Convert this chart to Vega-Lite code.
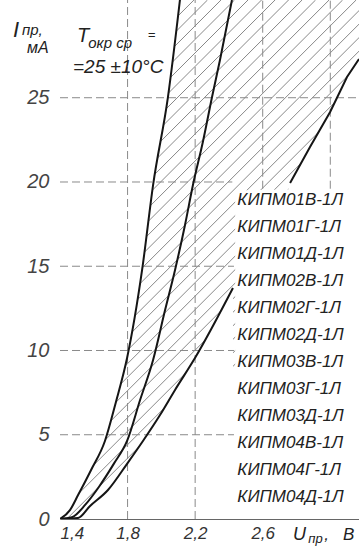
{
  "$schema": "https://vega.github.io/schema/vega-lite/v6.json",
  "width": 299,
  "height": 519,
  "autosize": "none",
  "padding": {"left": 60, "top": 0, "right": 0, "bottom": 27},
  "background": "white",
  "config": {
    "view": {"stroke": null},
    "font": "Liberation Sans",
    "axis": {"zindex": 1}
  },
  "datasets": {
    "hatch": [
      {"v0": -0.96, "v1": 2.113}, {"v0": -0.88, "v1": 2.193}, {"v0": -0.80, "v1": 2.273},
      {"v0": -0.72, "v1": 2.353}, {"v0": -0.64, "v1": 2.433}, {"v0": -0.56, "v1": 2.513},
      {"v0": -0.48, "v1": 2.593}, {"v0": -0.40, "v1": 2.673}, {"v0": -0.32, "v1": 2.753},
      {"v0": -0.24, "v1": 2.833}, {"v0": -0.16, "v1": 2.913}, {"v0": -0.08, "v1": 2.993},
      {"v0": 0.00, "v1": 3.073}, {"v0": 0.08, "v1": 3.153}, {"v0": 0.16, "v1": 3.233},
      {"v0": 0.24, "v1": 3.313}, {"v0": 0.32, "v1": 3.393}, {"v0": 0.40, "v1": 3.473},
      {"v0": 0.48, "v1": 3.553}, {"v0": 0.56, "v1": 3.633}, {"v0": 0.64, "v1": 3.713},
      {"v0": 0.72, "v1": 3.793}, {"v0": 0.80, "v1": 3.873}, {"v0": 0.88, "v1": 3.953},
      {"v0": 0.96, "v1": 4.033}, {"v0": 1.04, "v1": 4.113}, {"v0": 1.12, "v1": 4.193},
      {"v0": 1.20, "v1": 4.273}, {"v0": 1.28, "v1": 4.353}, {"v0": 1.36, "v1": 4.433},
      {"v0": 1.44, "v1": 4.513}, {"v0": 1.52, "v1": 4.593}
    ],
    "curve1": [
      {"v": 1.40, "i": 0}, {"v": 1.459, "i": 0.53}, {"v": 1.507, "i": 1.42},
      {"v": 1.584, "i": 2.91}, {"v": 1.666, "i": 4.63}, {"v": 1.73, "i": 6.9},
      {"v": 1.797, "i": 9.55}, {"v": 1.886, "i": 14.78}, {"v": 1.951, "i": 19.82},
      {"v": 2.039, "i": 25.04}, {"v": 2.110, "i": 30.8}
    ],
    "curve2": [
      {"v": 1.40, "i": 0}, {"v": 1.47, "i": 0.1}, {"v": 1.55, "i": 0.85},
      {"v": 1.63, "i": 1.9}, {"v": 1.72, "i": 3.3}, {"v": 1.797, "i": 4.63},
      {"v": 1.874, "i": 7.06}, {"v": 1.951, "i": 9.44}, {"v": 2.022, "i": 12.40},
      {"v": 2.081, "i": 14.78}, {"v": 2.140, "i": 17.45}, {"v": 2.187, "i": 19.82},
      {"v": 2.247, "i": 22.43}, {"v": 2.300, "i": 25.04}, {"v": 2.347, "i": 27.24},
      {"v": 2.418, "i": 30.8}
    ],
    "curve3a": [
      {"v": 1.40, "i": 0}, {"v": 1.507, "i": 0.06}, {"v": 1.578, "i": 0.77},
      {"v": 1.684, "i": 1.72}, {"v": 1.80, "i": 3.32}, {"v": 1.891, "i": 4.63},
      {"v": 1.992, "i": 6.17}, {"v": 2.081, "i": 7.66}, {"v": 2.199, "i": 9.55},
      {"v": 2.424, "i": 13.71}
    ],
    "curve3b": [
      {"v": 2.762, "i": 19.94}, {"v": 2.880, "i": 22.08}, {"v": 2.999, "i": 24.15},
      {"v": 3.099, "i": 26.23}, {"v": 3.170, "i": 27.30}
    ],
    "boxMask": [
      {"v": 2.437, "i": 19.5}, {"v": 2.752, "i": 19.55}, {"v": 2.762, "i": 19.94},
      {"v": 2.880, "i": 22.08}, {"v": 2.999, "i": 24.15}, {"v": 3.099, "i": 26.23},
      {"v": 3.170, "i": 27.30}
    ],
    "hgrid": [
      {"i": 5, "a": 1.4, "b": 2.43}, {"i": 10, "a": 1.4, "b": 2.43}, {"i": 15, "a": 1.4, "b": 2.43},
      {"i": 20, "a": 1.4, "b": 2.42}, {"i": 25, "a": 1.4, "b": 3.17}
    ],
    "vgrid": [
      {"v": 1.8, "lo": 0, "hi": 30.8}, {"v": 2.2, "lo": 0, "hi": 30.8},
      {"v": 2.6, "lo": 19.6, "hi": 30.8}, {"v": 3.0, "lo": 19.6, "hi": 30.8}
    ],
    "labels": [
      {"name": "КИПМ01В-1Л", "i": 18.93}, {"name": "КИПМ01Г-1Л", "i": 17.33},
      {"name": "КИПМ01Д-1Л", "i": 15.73}, {"name": "КИПМ02В-1Л", "i": 14.12},
      {"name": "КИПМ02Г-1Л", "i": 12.52}, {"name": "КИПМ02Д-1Л", "i": 10.92},
      {"name": "КИПМ03В-1Л", "i": 9.32}, {"name": "КИПМ03Г-1Л", "i": 7.72},
      {"name": "КИПМ03Д-1Л", "i": 6.11}, {"name": "КИПМ04В-1Л", "i": 4.51},
      {"name": "КИПМ04Г-1Л", "i": 2.91}, {"name": "КИПМ04Д-1Л", "i": 1.31}
    ],
    "one": [{}]
  },
  "layer": [
    {
      "data": {"name": "hatch"},
      "mark": {"type": "rule", "clip": true, "color": "#7a7a7a", "strokeWidth": 0.9},
      "encoding": {
        "x": {
          "field": "v0", "type": "quantitative",
          "scale": {"domain": [1.4, 3.17], "nice": false, "zero": false},
          "axis": {
            "title": null, "values": [1.4, 1.8, 2.2, 2.6], "ticks": false, "grid": false,
            "domainColor": "#666", "labelExpr": "replace(format(datum.value, '.1f'), '.', ',')",
            "labelFontSize": 17, "labelFontStyle": "italic", "labelColor": "#333",
            "labelPadding": 6, "labelDx": -3, "labelBaseline": "top"
          }
        },
        "x2": {"field": "v1"},
        "y": {
          "datum": 0, "type": "quantitative",
          "scale": {"domain": [0, 30.8], "nice": false, "zero": false},
          "axis": {
            "title": null, "values": [0, 5, 10, 15, 20, 25], "ticks": false, "grid": false,
            "domainColor": "#666", "labelFontSize": 20, "labelFontStyle": "italic",
            "labelColor": "#444", "labelPadding": 11
          }
        },
        "y2": {"datum": 30.8}
      }
    },
    {
      "data": {"name": "curve1"},
      "mark": {"type": "area", "fill": "white", "clip": true, "interpolate": "monotone"},
      "encoding": {
        "x": {"field": "v", "type": "quantitative"},
        "y": {"field": "i", "type": "quantitative"},
        "y2": {"datum": 30.8}
      }
    },
    {
      "data": {"name": "curve3a"},
      "mark": {"type": "area", "fill": "white", "clip": true, "interpolate": "monotone"},
      "encoding": {
        "x": {"field": "v", "type": "quantitative"},
        "y": {"field": "i", "type": "quantitative"},
        "y2": {"datum": 0}
      }
    },
    {
      "data": {"name": "boxMask"},
      "mark": {"type": "area", "fill": "white", "clip": true},
      "encoding": {
        "x": {"field": "v", "type": "quantitative"},
        "y": {"field": "i", "type": "quantitative"},
        "y2": {"datum": 0}
      }
    },
    {
      "data": {"name": "hgrid"},
      "mark": {"type": "rule", "color": "#8a8a8a", "strokeWidth": 1, "strokeDash": [8, 4]},
      "encoding": {
        "y": {"field": "i", "type": "quantitative"},
        "x": {"field": "a", "type": "quantitative"},
        "x2": {"field": "b"}
      }
    },
    {
      "data": {"name": "vgrid"},
      "mark": {"type": "rule", "color": "#8a8a8a", "strokeWidth": 1, "strokeDash": [8, 4]},
      "encoding": {
        "x": {"field": "v", "type": "quantitative"},
        "y": {"field": "lo", "type": "quantitative"},
        "y2": {"field": "hi"}
      }
    },
    {
      "data": {"name": "curve1"},
      "mark": {"type": "line", "clip": true, "color": "#151515", "strokeWidth": 2, "interpolate": "monotone"},
      "encoding": {"x": {"field": "v", "type": "quantitative"}, "y": {"field": "i", "type": "quantitative"}}
    },
    {
      "data": {"name": "curve2"},
      "mark": {"type": "line", "clip": true, "color": "#151515", "strokeWidth": 2, "interpolate": "monotone"},
      "encoding": {"x": {"field": "v", "type": "quantitative"}, "y": {"field": "i", "type": "quantitative"}}
    },
    {
      "data": {"name": "curve3a"},
      "mark": {"type": "line", "clip": true, "color": "#151515", "strokeWidth": 2, "interpolate": "monotone"},
      "encoding": {"x": {"field": "v", "type": "quantitative"}, "y": {"field": "i", "type": "quantitative"}}
    },
    {
      "data": {"name": "curve3b"},
      "mark": {"type": "line", "clip": true, "color": "#151515", "strokeWidth": 2},
      "encoding": {"x": {"field": "v", "type": "quantitative"}, "y": {"field": "i", "type": "quantitative"}}
    },
    {
      "data": {"name": "labels"},
      "mark": {"type": "text", "align": "left", "baseline": "middle", "fontSize": 17, "fontStyle": "italic", "color": "#222"},
      "encoding": {
        "x": {"datum": 2.45, "type": "quantitative"},
        "y": {"field": "i", "type": "quantitative"},
        "text": {"field": "name"}
      }
    },
    {
      "data": {"name": "one"},
      "mark": {"type": "text", "align": "left", "baseline": "alphabetic", "fontSize": 22, "fontStyle": "italic", "color": "#222"},
      "encoding": {"x": {"datum": 1.122, "type": "quantitative"}, "y": {"datum": 28.61, "type": "quantitative"}, "text": {"value": "I"}}
    },
    {
      "data": {"name": "one"},
      "mark": {"type": "text", "align": "left", "baseline": "alphabetic", "fontSize": 15, "fontStyle": "italic", "color": "#222"},
      "encoding": {"x": {"datum": 1.175, "type": "quantitative"}, "y": {"datum": 28.7, "type": "quantitative"}, "text": {"value": "пр,"}}
    },
    {
      "data": {"name": "one"},
      "mark": {"type": "text", "align": "left", "baseline": "alphabetic", "fontSize": 16, "fontStyle": "italic", "color": "#222"},
      "encoding": {"x": {"datum": 1.205, "type": "quantitative"}, "y": {"datum": 27.66, "type": "quantitative"}, "text": {"value": "мА"}}
    },
    {
      "data": {"name": "one"},
      "mark": {"type": "text", "align": "left", "baseline": "alphabetic", "fontSize": 20, "fontStyle": "italic", "color": "#222"},
      "encoding": {"x": {"datum": 1.501, "type": "quantitative"}, "y": {"datum": 28.31, "type": "quantitative"}, "text": {"value": "T"}}
    },
    {
      "data": {"name": "one"},
      "mark": {"type": "text", "align": "left", "baseline": "alphabetic", "fontSize": 15, "fontStyle": "italic", "color": "#222"},
      "encoding": {"x": {"datum": 1.567, "type": "quantitative"}, "y": {"datum": 27.95, "type": "quantitative"}, "text": {"value": "окр ср"}}
    },
    {
      "data": {"name": "one"},
      "mark": {"type": "text", "align": "left", "baseline": "alphabetic", "fontSize": 13, "fontStyle": "italic", "color": "#222"},
      "encoding": {"x": {"datum": 1.92, "type": "quantitative"}, "y": {"datum": 28.5, "type": "quantitative"}, "text": {"value": "="}}
    },
    {
      "data": {"name": "one"},
      "mark": {"type": "text", "align": "left", "baseline": "alphabetic", "fontSize": 19, "fontStyle": "italic", "color": "#222"},
      "encoding": {"x": {"datum": 1.477, "type": "quantitative"}, "y": {"datum": 26.47, "type": "quantitative"}, "text": {"value": "=25 ±10°C"}}
    },
    {
      "data": {"name": "one"},
      "mark": {"type": "text", "align": "left", "baseline": "alphabetic", "fontSize": 18, "fontStyle": "italic", "color": "#222"},
      "encoding": {"x": {"datum": 2.78, "type": "quantitative"}, "y": {"datum": -1.25, "type": "quantitative"}, "text": {"value": "U"}}
    },
    {
      "data": {"name": "one"},
      "mark": {"type": "text", "align": "left", "baseline": "alphabetic", "fontSize": 13, "fontStyle": "italic", "color": "#222"},
      "encoding": {"x": {"datum": 2.87, "type": "quantitative"}, "y": {"datum": -1.45, "type": "quantitative"}, "text": {"value": "пр"}}
    },
    {
      "data": {"name": "one"},
      "mark": {"type": "text", "align": "left", "baseline": "alphabetic", "fontSize": 17, "fontStyle": "italic", "color": "#222"},
      "encoding": {"x": {"datum": 2.965, "type": "quantitative"}, "y": {"datum": -1.25, "type": "quantitative"}, "text": {"value": ","}}
    },
    {
      "data": {"name": "one"},
      "mark": {"type": "text", "align": "left", "baseline": "alphabetic", "fontSize": 17, "fontStyle": "italic", "color": "#222"},
      "encoding": {"x": {"datum": 3.075, "type": "quantitative"}, "y": {"datum": -1.25, "type": "quantitative"}, "text": {"value": "В"}}
    }
  ]
}
